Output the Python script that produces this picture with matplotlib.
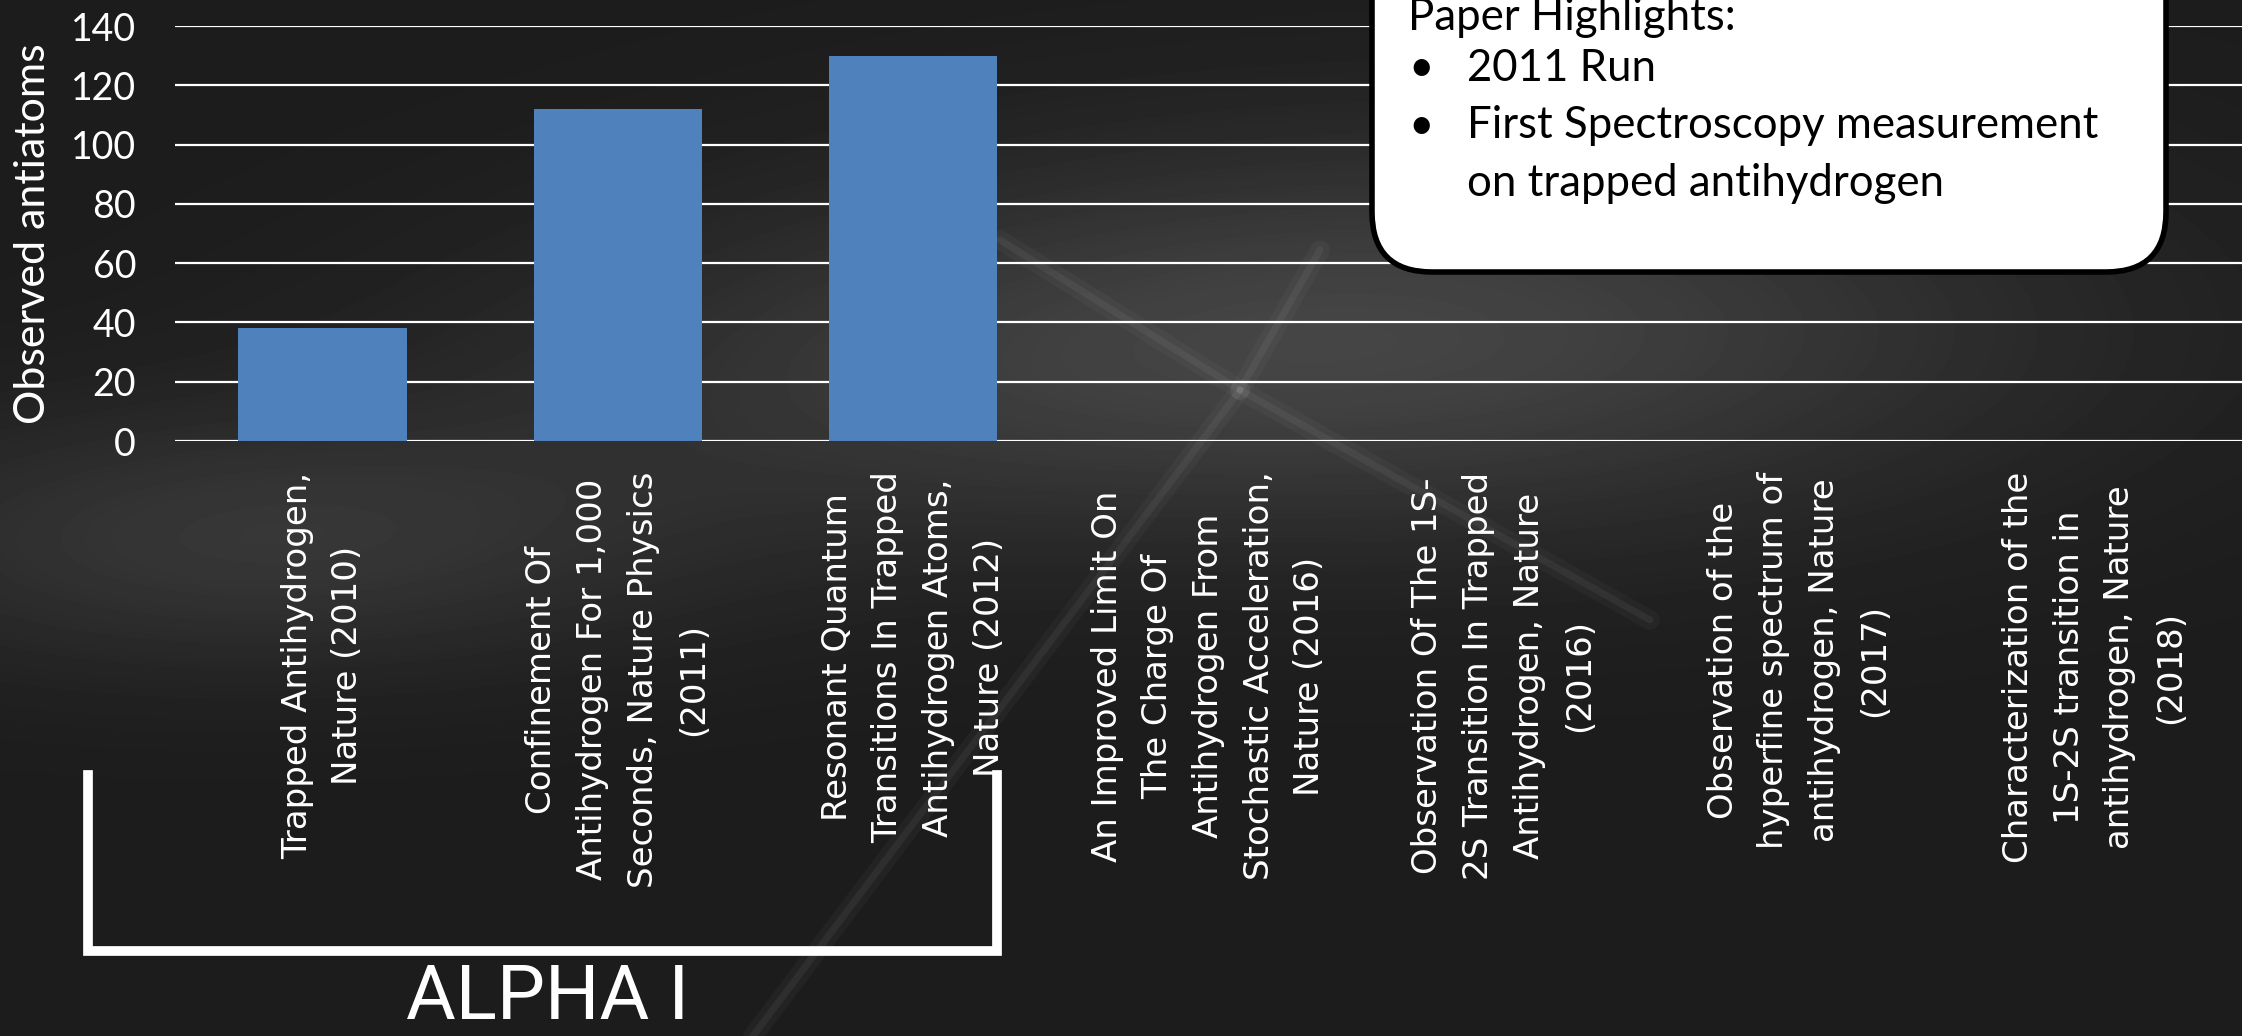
import matplotlib.pyplot as plt
import numpy as np
from matplotlib.patches import FancyBboxPatch

# Data
papers = [
    "Trapped Antihydrogen,\nNature (2010)",
    "Confinement Of\nAntihydrogen For 1,000\nSeconds, Nature Physics\n(2011)",
    "Resonant Quantum\nTransitions In Trapped\nAntihydrogen Atoms,\nNature (2012)",
    "An Improved Limit On\nThe Charge Of\nAntihydrogen From\nStochastic Acceleration,\nNature (2016)",
    "Observation Of The 1S-\n2S Transition In Trapped\nAntihydrogen, Nature\n(2016)",
    "Observation of the\nhyperfine spectrum of\nantihydrogen, Nature\n(2017)",
    "Characterization of the\n1S-2S transition in\nantihydrogen, Nature\n(2018)",
]
observed = [38, 112, 130, np.nan, np.nan, np.nan, np.nan]
y_ticks = [0, 20, 40, 60, 80, 100, 120, 140]

highlight_title = "Paper Highlights:"
highlights = ["2011 Run", "First Spectroscopy measurement\non trapped antihydrogen"]
group_label = "ALPHA I"

W, H = 2242, 1036
fig = plt.figure(figsize=(W / 100, H / 100), dpi=100)

# fondo oscuro con manchas claras
bg_ax = fig.add_axes([0, 0, 1, 1], zorder=-5)
yy, xx = np.mgrid[0:H, 0:W]
bg = (0.11
      + 0.14 * np.exp(-(((xx - 1450) / 600) ** 2 + ((yy - 330) / 200) ** 2))
      + 0.10 * np.exp(-(((xx - 250) / 450) ** 2 + ((yy - 540) / 130) ** 2))
      + 0.06 * np.exp(-(((xx - 900) / 500) ** 2 + ((yy - 380) / 160) ** 2)))
bg_ax.imshow(bg, cmap="gray", vmin=0, vmax=1, aspect="auto",
             extent=(0, W, H, 0))
# some faint streaks
for (x0, y0, x1, y1) in [(753, 1036, 1240, 390), (1240, 390, 1650, 620),
                         (1240, 390, 1000, 240), (1240, 390, 1320, 250)]:
    for lw, a in [(14, 0.03), (5, 0.05)]:
        bg_ax.plot([x0, x1], [y0, y1], color="white", alpha=a, lw=lw,
                   solid_capstyle="round")
bg_ax.set_xlim(0, W)
bg_ax.set_ylim(H, 0)
bg_ax.axis("off")

# main chart
ax = fig.add_axes([175 / W, (H - 441) / H, (W - 175) / W, (441 - 26) / H])
ax.set_facecolor("none")
x = np.arange(len(papers))
ax.bar(x, observed, width=0.57, color="#4f81bd", zorder=3)
ax.set_xlim(-0.5, len(papers) - 0.5)
ax.set_ylim(0, 140)
ax.set_yticks(y_ticks)
ax.grid(axis="y", color="white", lw=1.6, zorder=1)
ax.set_axisbelow(True)
for s in ax.spines.values():
    s.set_visible(False)
ax.tick_params(axis="both", length=0, colors="white")
ax.tick_params(axis="y", pad=28, labelsize=27)
ax.tick_params(axis="x", pad=22)
for lab in ax.get_yticklabels():
    lab.set_family("Lato")
ax.set_xticks(x)
ax.set_xticklabels(papers, rotation=90, fontsize=24.5, color="white",
                   family="DejaVu Sans", multialignment="center",
                   linespacing=1.68)
ax.set_ylabel("Observed antiatoms", fontsize=31, color="white",
              family="Lato", labelpad=14)

# overlay in pixel coordinates
ov = fig.add_axes([0, 0, 1, 1], zorder=5)
ov.set_xlim(0, W)
ov.set_ylim(H, 0)
ov.axis("off")
ov.set_facecolor("none")

# bracket ALPHA I
ov.plot([88, 88, 997, 997], [775, 951, 951, 775], color="white", lw=7,
        solid_joinstyle="miter")
ov.text(548, 1019, group_label, color="white", fontsize=55, ha="center",
        va="baseline", family="Roboto")

# callout box
box = FancyBboxPatch((1372, -120), 794, 392,
                     boxstyle="round,pad=0,rounding_size=60",
                     fc="white", ec="black", lw=4, zorder=6)
ov.add_patch(box)
ov.text(1408, 17, highlight_title, fontsize=31.5, color="black", va="center",
        family="Lato", zorder=7)
bullet_y = [69, 126]
for yb, t in zip(bullet_y, highlights):
    ov.text(1408, yb, "\u2022", fontsize=31.5, color="black", va="center",
            family="Lato", zorder=7)
    ov.text(1467, yb - 21, t, fontsize=31.5, color="black", va="top",
            family="Lato", linespacing=1.52, zorder=7)

fig.savefig("out.png", dpi=100)
